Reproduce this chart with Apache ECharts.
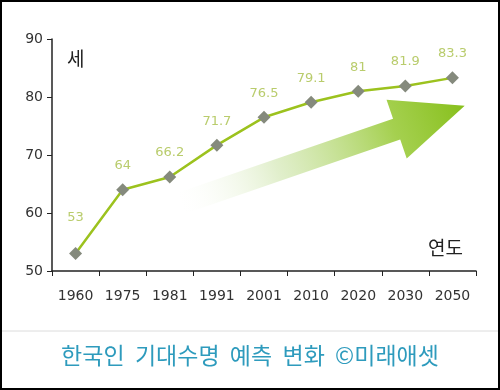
<!DOCTYPE html>
<html><head><meta charset="utf-8">
<script src="https://cdn.jsdelivr.net/npm/echarts@6/dist/echarts.min.js"></script>
<style>html,body{margin:0;padding:0;background:#fff}#c{width:500px;height:390px}</style>
</head><body><div id="c"></div>
<script>
const years = ['1960','1975','1981','1991','2001','2010','2020','2030','2050'];
const lifeExpectancy = [53, 64, 66.2, 71.7, 76.5, 79.1, 81, 81.9, 83.3];
const yTicks = {min: 50, max: 90, interval: 10};
const titleText = '한국인  기대수명  예측  변화  ©미래애셋';
const yUnit = '세';
const xUnit = '연도';

const chart = echarts.init(document.getElementById('c'), null, {renderer: 'canvas'});

// arrow geometry (decorative)
const ang = 19 * Math.PI / 180;
const d = [Math.cos(ang), -Math.sin(ang)];
const n = [Math.sin(ang), Math.cos(ang)];
const T = [182, 203];
const shaftLen = 227, headLen = 72, sw = 11, hw = 31;
const H = [T[0] + shaftLen * d[0], T[1] + shaftLen * d[1]];
const tip = [H[0] + headLen * d[0], H[1] + headLen * d[1]];
const P = (p, k, v) => [p[0] + k * v[0], p[1] + k * v[1]];
const arrowPts = [P(T, sw, n), P(H, sw, n), P(H, hw, n), tip, P(H, -hw, n), P(H, -sw, n), P(T, -sw, n)];

chart.setOption({
  animation: false,
  backgroundColor: '#fff',
  title: {
    text: titleText, left: 'center', top: 339,
    textStyle: {color: '#2e9bbd', fontSize: 23, fontWeight: 'normal', fontFamily: 'Noto Sans CJK KR'}
  },
  grid: {left: 52, right: 24, top: 39, bottom: 119},
  xAxis: {
    type: 'category', data: years, boundaryGap: true,
    axisLine: {lineStyle: {color: '#222', width: 1.5}},
    axisTick: {show: true, alignWithLabel: false, length: 5, lineStyle: {color: '#222'}},
    axisLabel: {color: '#333', fontSize: 14, fontFamily: 'DejaVu Sans', margin: 18}
  },
  yAxis: {
    type: 'value', min: yTicks.min, max: yTicks.max, interval: yTicks.interval,
    splitLine: {show: false},
    axisLine: {show: true, lineStyle: {color: '#222', width: 1.5}},
    axisTick: {show: true, length: 5, lineStyle: {color: '#222'}},
    axisLabel: {color: '#333', fontSize: 14, fontFamily: 'DejaVu Sans', margin: 9}
  },
  graphic: [
    {type: 'polygon', z: 0, shape: {points: arrowPts},
     style: {fill: new echarts.graphic.LinearGradient(0, 1, 1, 0, [
       {offset: 0, color: 'rgba(255,255,255,0)'},
       {offset: 0.35, color: 'rgba(205,228,170,0.6)'},
       {offset: 0.75, color: 'rgba(155,203,60,0.9)'},
       {offset: 1, color: '#86bf1a'}
     ])}},
    {type: 'text', left: 67, top: 49, style: {text: yUnit, fontSize: 19, fill: '#222', fontFamily: 'Noto Sans CJK KR'}},
    {type: 'text', left: 428, top: 238, style: {text: xUnit, fontSize: 19, fill: '#222', fontFamily: 'Noto Sans CJK KR'}},
    {type: 'line', shape: {x1: 0, y1: 331, x2: 500, y2: 331}, style: {stroke: '#dcdcdc', lineWidth: 1}},
    {type: 'rect', shape: {x: 1, y: 1, width: 498, height: 388}, style: {fill: 'none', stroke: '#000', lineWidth: 2}, z: 100}
  ],
  series: [{
    type: 'line', data: lifeExpectancy.map((v, i) => i === 0 ? {value: v, label: {distance: 23}} : v),
    z: 5,
    lineStyle: {color: '#9cc21e', width: 2.5},
    symbol: 'diamond', symbolSize: 13,
    itemStyle: {color: '#858a7d', borderWidth: 0},
    label: {show: true, position: 'top', distance: 11, color: '#b9cc6c', fontSize: 13, fontFamily: 'DejaVu Sans'}
  }]
});
</script></body></html>
